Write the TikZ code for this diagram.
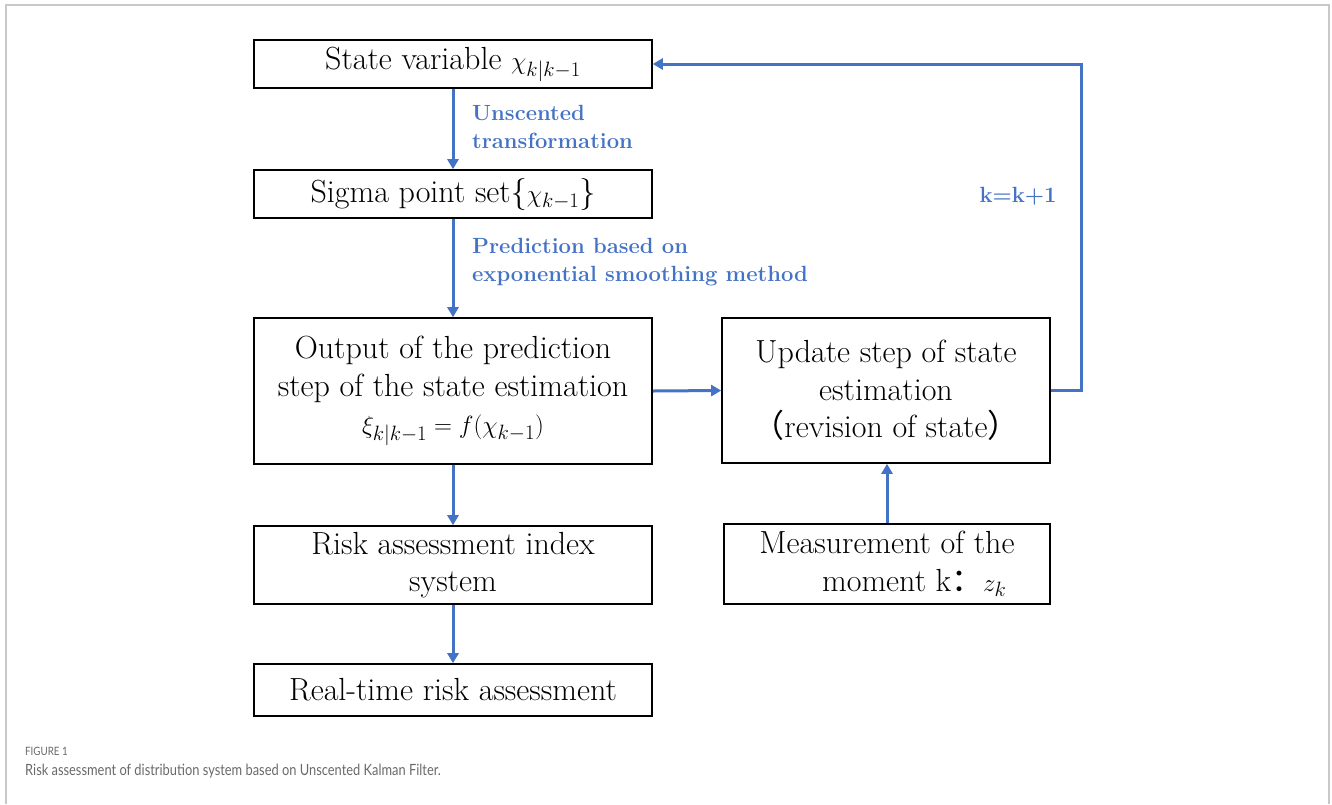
\documentclass[tikz,border=0pt]{standalone}
\usepackage{fontspec}
\usepackage{amsmath}
\newfontfamily\cjk{Noto Sans CJK SC}
\newfontfamily\capfont{Lato}
\usetikzlibrary{arrows.meta}
\definecolor{flowblue}{RGB}{68,114,196}
\definecolor{capgray}{RGB}{105,105,105}
\definecolor{framegray}{RGB}{200,200,200}
\tikzset{
  box/.style={draw=black, line width=1.6pt, align=center, inner sep=0pt,
    font=\fontsize{32}{37.5}\selectfont},
  flow/.style={draw=flowblue, line width=3pt, -{Triangle[length=10pt,width=11pt]}},
  lbl/.style={text=flowblue, align=left, inner sep=0pt,
    font=\fontsize{22}{28.5}\selectfont\bfseries},
}
\begin{document}
\begin{tikzpicture}[x=1pt,y=-1pt]
\useasboundingbox (0,0) rectangle (1332,804);
\draw[framegray, line width=1.5pt] (6,804) -- (6,5) -- (1329,5) -- (1329,804);

\node[box, minimum width=398pt, minimum height=48pt] (b1) at (453,64) {State variable $\chi_{k|k-1}$};
\node[box, minimum width=398pt, minimum height=48pt] (b2) at (453,194) {Sigma point set\{$\chi_{k-1}$\}};
\node[box, minimum width=398pt, minimum height=146pt] (b3) at (453,391) {Output of the prediction\\step of the state estimation\\$\xi_{k|k-1}=f(\chi_{k-1})$};
\node[box, minimum width=328pt, minimum height=145pt] (b4) at (886,390.5) {Update step of state\\estimation\\{\cjk （}revision of state{\cjk ）}};
\node[box, minimum width=326pt, minimum height=80pt] (b6) at (887,564) {Measurement of the\\\hspace*{1.7em}moment k{\cjk ：}$z_k$};
\node[box, minimum width=398pt, minimum height=78pt] (b5) at (453,565) {Risk assessment index\\system};
\node[box, minimum width=398pt, minimum height=52pt] (b7) at (453,690) {Real-time risk assessment};

\node[lbl, anchor=west] (l1) at (472,127) {Unscented\\transformation};
\node[lbl, anchor=west] (l2) at (472,262) {Prediction based on\\exponential smoothing method};
\node[lbl] (l3) at (1018,196) {k=k+1};

\draw[flow] (b1.south) -- (b2.north);
\draw[flow] (b2.south) -- (b3.north);
\draw[flow] (b3.south) -- (b5.north);
\draw[flow] (b5.south) -- (b7.north);
\draw[flow] (b3.east) -- (b4.west);
\draw[flow] (b6.north) -- (b6.north |- b4.south);
\coordinate (loopc) at (1081,64);
\draw[flow] (b4.east) -| (loopc) -- (b1.east);

\node[anchor=west, inner sep=0pt, text=capgray, font=\capfont\fontsize{11.5}{14}\selectfont] (cap1) at (25,751) {\scalebox{0.85}[1]{FIGURE 1}};
\node[anchor=west, inner sep=0pt, text=capgray, font=\capfont\fontsize{15.5}{20}\selectfont] (cap2) at (25,771) {\scalebox{0.83}[1]{Risk assessment of distribution system based on Unscented Kalman Filter.}};
\end{tikzpicture}
\end{document}
